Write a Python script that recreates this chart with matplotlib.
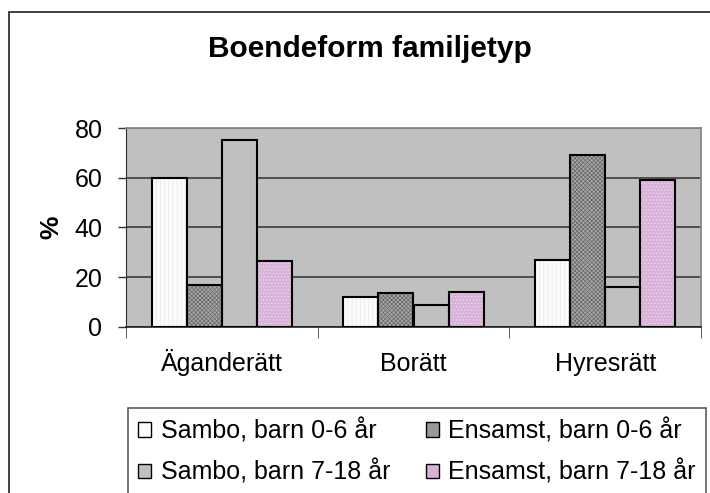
import numpy as np
import matplotlib
matplotlib.use("Agg")
import matplotlib.pyplot as plt
from matplotlib.patches import Patch, Rectangle

plt.rcParams['font.family'] = ['Liberation Sans', 'DejaVu Sans']
plt.rcParams['hatch.linewidth'] = 0.5

categories = ['Äganderätt', 'Borätt', 'Hyresrätt']
series = ['Sambo, barn 0-6 år', 'Ensamst, barn 0-6 år',
          'Sambo, barn 7-18 år', 'Ensamst, barn 7-18 år']
sambo_0_6 = [60, 12, 27]
ensamst_0_6 = [17, 13.5, 69]
sambo_7_18 = [75, 9, 16]
ensamst_7_18 = [26.5, 14, 59]
values = [sambo_0_6, ensamst_0_6, sambo_7_18, ensamst_7_18]

faces = ['#fbfbfb', '#a8a8a8', '#c0c0c0', '#d8b2d8']
hatches = ['||||', 'xxxxxxxx', None, '.....']
hatch_cols = ['#e8e8e8', '#666666', '#c0c0c0', '#f0dcf0']
legend_faces = ['#ffffff', '#999999', '#c0c0c0', '#d8b2d8']

fig = plt.figure(figsize=(7.1, 4.93), dpi=100)
ax = fig.add_axes([126/710, 1-327/493, 575/710, 199/493])
ax.set_facecolor('#c0c0c0')

x = np.arange(len(categories))
w = 0.183
for i, vals in enumerate(values):
	pos = x + (i - 1.5)*w
	ax.bar(pos, vals, w, color=faces[i], hatch=hatches[i], edgecolor=hatch_cols[i], linewidth=0, zorder=3)
	ax.bar(pos, vals, w, color='none', edgecolor='black', linewidth=1.5, zorder=4)

ax.set_xlim(-0.5, 2.5)
ax.set_ylim(0, 80)
ax.set_yticks([0, 20, 40, 60, 80])
ax.yaxis.grid(True, color='#303030', linewidth=1.1, zorder=1)
ax.set_axisbelow(True)
ax.set_xticks(x)
ax.set_xticklabels(categories)
for lab in ax.get_xticklabels():
	lab.set_verticalalignment('baseline')
ax.set_xticks([-0.5, 0.5, 1.5, 2.5], minor=True)
ax.tick_params(axis='x', which='major', length=0, pad=32, labelsize=18)
ax.tick_params(axis='x', which='minor', length=8, color='#404040', direction='out')
ax.tick_params(axis='y', length=6, width=1, color='#303030', pad=11, labelsize=18)

for s in ['top', 'right']:
	ax.spines[s].set_color('#888888')
	ax.spines[s].set_linewidth(1.3)
ax.spines['left'].set_color('#303030')
ax.spines['bottom'].set_color('#202020')
ax.spines['bottom'].set_linewidth(1.2)

fig.text(370/710, 1-57/493, 'Boendeform familjetyp', fontsize=21.5, fontweight='bold', ha='center', va='baseline')
fig.text(51/710, 1-227/493, '%', fontsize=19, fontweight='bold', rotation=90, ha='center', va='center')

# legend fills column by column, so order the handles to get rows as in the original
order = [0, 2, 1, 3]
handles = [Patch(facecolor=legend_faces[i], edgecolor='black', linewidth=1) for i in order]
labels = [series[i] for i in order]
leg = fig.legend(handles, labels, loc='upper left', bbox_to_anchor=(128/710, 1-408/493),
	ncol=2, fontsize=18, frameon=True, fancybox=False, handlelength=0.52, handleheight=0.52,
	handletextpad=0.4, columnspacing=1.4, borderpad=0.4, labelspacing=0.66, borderaxespad=0)
leg.get_frame().set_edgecolor('#333333')
leg.get_frame().set_linewidth(1.2)

fig.patches.append(Rectangle((9/710, -0.5), 1.2, 0.5+1-12/493, transform=fig.transFigure,
	fill=False, edgecolor='#333333', linewidth=1.3))

fig.savefig('out.png', dpi=100)
